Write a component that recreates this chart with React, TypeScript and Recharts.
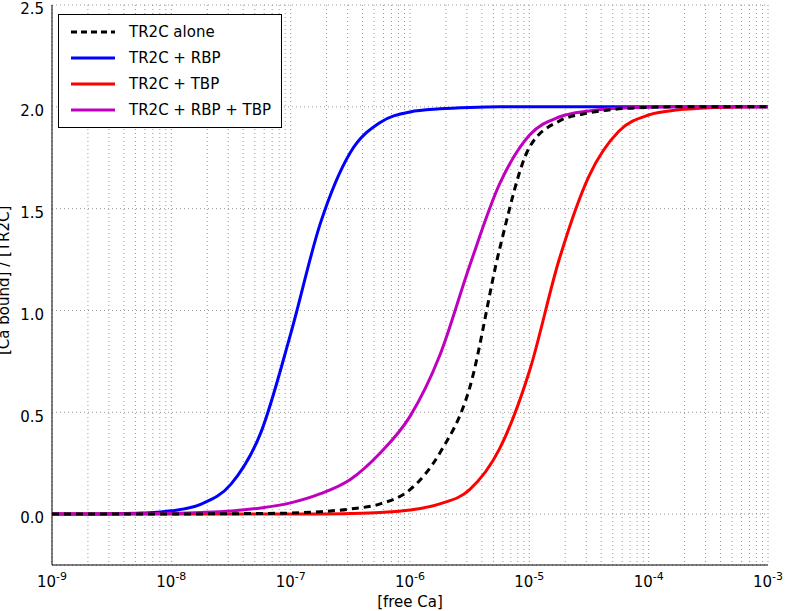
import { LineChart, Line, XAxis, YAxis, CartesianGrid } from "recharts";

// x values are log10 of free Ca
const logCa = [-9, -8.75, -8.5, -8.25, -8, -7.75, -7.5, -7.25, -7, -6.75, -6.5, -6.25, -6, -5.75, -5.5, -5.25, -5, -4.75, -4.5, -4.25, -4, -3.75, -3.5, -3.25, -3];
const alone = [0, 0, 0, 0, 0.0005, 0.001, 0.002, 0.003, 0.005, 0.012, 0.025, 0.05, 0.12, 0.3, 0.62, 1.3, 1.8, 1.93, 1.97, 1.99, 1.997, 2, 2, 2, 2];
const withRbp = [0, 0.0003, 0.0016, 0.005, 0.016, 0.049, 0.147, 0.4, 0.885, 1.43, 1.776, 1.923, 1.975, 1.99, 1.997, 2, 2, 2, 2, 2, 2, 2, 2, 2, 2];
const withTbp = [0, 0, 0, 0, 0, 0, 0, 0, 0.0005, 0.001, 0.003, 0.008, 0.02, 0.05, 0.12, 0.32, 0.7, 1.25, 1.66, 1.88, 1.96, 1.985, 1.995, 1.999, 2];
const withBoth = [0, 0.0005, 0.001, 0.002, 0.004, 0.008, 0.015, 0.03, 0.055, 0.1, 0.17, 0.3, 0.48, 0.78, 1.22, 1.62, 1.86, 1.95, 1.98, 1.993, 1.998, 2, 2, 2, 2];
const majorTicks = [-9, -8, -7, -6, -5, -4, -3];
const yTicks = [0, 0.5, 1, 1.5, 2, 2.5];

const data = logCa.map((x, i) => ({
  x,
  alone: alone[i],
  rbp: withRbp[i],
  tbp: withTbp[i],
  both: withBoth[i],
}));

const allTicks: number[] = [];
majorTicks.forEach((d) => {
  allTicks.push(d);
  if (d < -3) for (let k = 2; k < 10; k++) allTicks.push(d + Math.log10(k));
});

const FONT = "DejaVu Sans";

function XTick(props: any) {
  const { x, y, payload } = props;
  const v = payload.value;
  if (!majorTicks.some((m) => Math.abs(m - v) < 1e-9)) return null;
  return (
    <text x={x} y={y + 14} textAnchor="middle" fontFamily={FONT} fontSize={15} fill="#000">
      10
      <tspan dy={-7} fontSize={11}>{v}</tspan>
    </text>
  );
}

const legendItems = [
  { label: "TR2C alone", color: "#000", dash: "6 4" },
  { label: "TR2C + RBP", color: "#0000ff", dash: undefined },
  { label: "TR2C + TBP", color: "#ff0000", dash: undefined },
  { label: "TR2C + RBP + TBP", color: "#bf00bf", dash: undefined },
];

export default function App() {
  return (
    <div style={{ position: "absolute", left: 0, top: 0, width: 787, height: 611, background: "#fff" }}>
      <LineChart width={787} height={611} data={data} margin={{ top: 5, right: 19, left: 12, bottom: 16 }}>
        <CartesianGrid stroke="#999" strokeDasharray="1 3" />
        <XAxis dataKey="x" type="number" domain={[-9, -3]} ticks={allTicks} interval={0} tick={<XTick />}
          tickLine={false} axisLine={{ stroke: "#000" }} height={30}
          label={{ value: "[free Ca]", position: "insideBottom", offset: -12, fontFamily: FONT, fontSize: 15, fill: "#000" }} />
        <XAxis xAxisId="top" orientation="top" dataKey="x" type="number" domain={[-9, -3]} tick={false} tickLine={false} axisLine={{ stroke: "#000" }} height={0} />
        <YAxis type="number" domain={[-0.25, 2.5]} ticks={yTicks} interval={0} width={40}
          tickFormatter={(v: number) => v.toFixed(1)} tickLine={false} axisLine={{ stroke: "#000" }}
          tick={{ fontFamily: FONT, fontSize: 15, fill: "#000", dy: 4 }}
          label={{ value: "[Ca bound] / [TR2C]", angle: -90, position: "insideLeft", offset: -8, dy: 70, fontFamily: FONT, fontSize: 15, fill: "#000" }} />
        <YAxis yAxisId="right" orientation="right" domain={[-0.25, 2.5]} tick={false} tickLine={false} axisLine={{ stroke: "#000" }} width={0} />
        <Line dataKey="rbp" type="monotone" stroke="#0000ff" strokeWidth={3} dot={false} isAnimationActive={false} />
        <Line dataKey="tbp" type="monotone" stroke="#ff0000" strokeWidth={3} dot={false} isAnimationActive={false} />
        <Line dataKey="both" type="monotone" stroke="#bf00bf" strokeWidth={3} dot={false} isAnimationActive={false} />
        <Line dataKey="alone" type="monotone" stroke="#000" strokeWidth={3} strokeDasharray="7 5" dot={false} isAnimationActive={false} />
      </LineChart>
      <div style={{ position: "absolute", left: 58, top: 14, border: "1px solid #000", background: "#fff", padding: "4px 10px", fontFamily: FONT, fontSize: 15 }}>
        {legendItems.map((it) => (
          <div key={it.label} style={{ display: "flex", alignItems: "center", height: 26 }}>
            <svg width={48} height={10} style={{ marginRight: 12 }}>
              <line x1={2} y1={5} x2={46} y2={5} stroke={it.color} strokeWidth={3} strokeDasharray={it.dash} />
            </svg>
            {it.label}
          </div>
        ))}
      </div>
    </div>
  );
}
